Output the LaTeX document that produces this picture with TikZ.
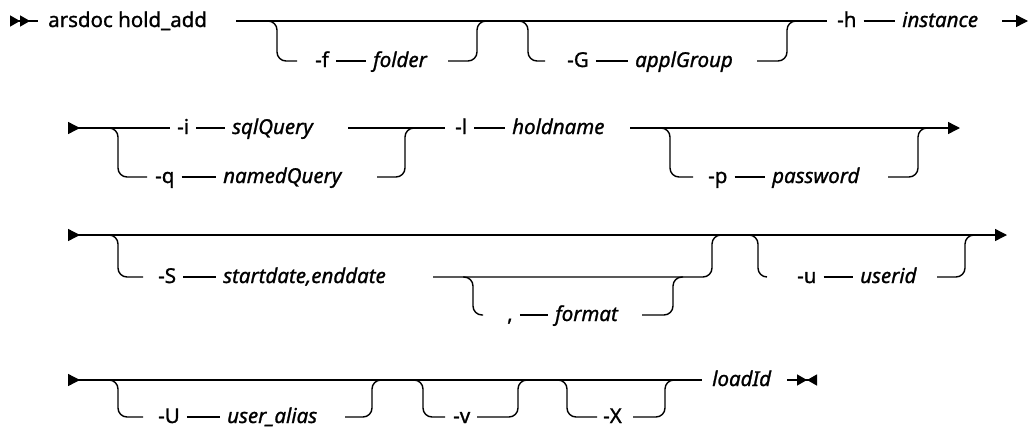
\documentclass[tikz,border=0pt]{standalone}
\usepackage{fontspec}
\setmainfont{Noto Sans}[FakeBold=1.1]
\usetikzlibrary{arrows.meta}

\newcommand{\railfont}{\fontsize{20.5}{24}\selectfont}

\begin{document}
\begin{tikzpicture}[x=1pt,y=-1pt,
    rail/.style={line width=1.4pt},
    br/.style={rail,rounded corners=9pt},
    link/.style={rail,shorten <=7pt,shorten >=7pt},
    kw/.style={anchor=west,inner sep=0pt,text height=12pt,text depth=0pt,font=\railfont},
    var/.style={kw,font=\railfont\itshape},
    railstart/.style={{Triangle[length=12pt,width=12pt,reversed]}-},
    railend/.style={-{Triangle[length=12pt,width=12pt]}}]
  \useasboundingbox (0,0) rectangle (1030,429);

  % row 1
  \coordinate (s1) at (10,21);
  \coordinate (s1e) at (38,21);
  \draw[rail,{Triangle[length=10pt,width=11pt,reversed]Triangle[length=10pt,width=11pt,reversed]}-] (s1) -- (s1e);
  \node[kw] (cmd) at (48,21) {arsdoc hold\_add};
  \coordinate (m1a) at (236,21);
  \coordinate (m1b) at (827,21);
  \draw[rail] (m1a) -- (m1b);
  % -f folder
  \coordinate (fA) at (267,21);
  \coordinate (fB) at (297,61);
  \coordinate (fC) at (448,61);
  \coordinate (fD) at (487,21);
  \node[kw] (f) at (315,61) {-f};
  \node[var] (folder) at (373,61) {folder};
  \draw[br] (fA) -- ++(10,0) |- (fB);
  \draw[link] (f) -- (folder);
  \draw[br] (fC) -| ([xshift=-10pt]fD) -- (fD);
  % -G applGroup
  \coordinate (GA) at (518,21);
  \coordinate (GB) at (545,61);
  \coordinate (GC) at (757,61);
  \coordinate (GD) at (797,21);
  \node[kw] (G) at (567,61) {-G};
  \node[var] (appl) at (635,61) {applGroup};
  \draw[br] (GA) -- ++(10,0) |- (GB);
  \draw[link] (G) -- (appl);
  \draw[br] (GC) -| ([xshift=-10pt]GD) -- (GD);
  % -h instance
  \node[kw] (h) at (837,21) {-h};
  \node[var] (inst) at (902,21) {instance};
  \draw[link] (h) -- (inst);
  \coordinate (e1a) at (1002,21);
  \coordinate (e1b) at (1028,21);
  \draw[rail,railend] (e1a) -- (e1b);

  % row 2
  \coordinate (s2) at (68,128);
  \coordinate (s2e) at (170,128);
  \draw[rail,railstart] (s2) -- (s2e);
  \node[kw] (i) at (177,128) {-i};
  \node[var] (sql) at (232,128) {sqlQuery};
  \draw[link] (i) -- (sql);
  \coordinate (m2a) at (348,128);
  \coordinate (m2b) at (445,128);
  \draw[rail] (m2a) -- (m2b);
  % -q namedQuery
  \coordinate (qA) at (108,128);
  \coordinate (qB) at (147,177);
  \coordinate (qC) at (377,177);
  \coordinate (qD) at (415,128);
  \node[kw] (q) at (155,177) {-q};
  \node[var] (named) at (223,177) {namedQuery};
  \draw[br] (qA) -- ++(10,0) |- (qB);
  \draw[link] (q) -- (named);
  \draw[br] (qC) -| ([xshift=-10pt]qD) -- (qD);
  % -l holdname
  \node[kw] (l) at (455,128) {-l};
  \node[var] (hold) at (512,128) {holdname};
  \draw[link] (l) -- (hold);
  \coordinate (m2c) at (630,128);
  \coordinate (e2) at (960,128);
  \draw[rail,railend] (m2c) -- (e2);
  % -p password
  \coordinate (pA) at (660,128);
  \coordinate (pB) at (693,177);
  \coordinate (pC) at (888,177);
  \coordinate (pD) at (928,128);
  \node[kw] (p) at (708,177) {-p};
  \node[var] (pw) at (772,177) {password};
  \draw[br] (pA) -- ++(10,0) |- (pB);
  \draw[link] (p) -- (pw);
  \draw[br] (pC) -| ([xshift=-10pt]pD) -- (pD);

  % row 3
  \coordinate (s3) at (68,235);
  \coordinate (e3) at (1007,235);
  \draw[rail,{Triangle[length=12pt,width=12pt,reversed]}-{Triangle[length=12pt,width=12pt]}] (s3) -- (e3);
  % -S startdate,enddate
  \coordinate (SA) at (108,235);
  \coordinate (SB) at (143,277);
  \coordinate (SC) at (433,277);
  \coordinate (SD) at (722,235);
  \node[kw] (S) at (158,277) {-S};
  \node[var] (dates) at (223,277) {startdate,enddate};
  \draw[br] (SA) -- ++(10,0) |- (SB);
  \draw[link] (S) -- (dates);
  \draw[br] (SC) -| ([xshift=-10pt]SD) -- (SD);
  % , format
  \coordinate (fmA) at (463,277);
  \coordinate (fmB) at (483,315);
  \coordinate (fmC) at (642,315);
  \coordinate (fmD) at (683,277);
  \node[kw] (comma) at (507,315) {,};
  \node[var] (fmt) at (555,315) {format};
  \draw[br] (fmA) -- ++(10,0) |- (fmB);
  \draw[link] (comma) -- (fmt);
  \draw[br] (fmC) -| ([xshift=-10pt]fmD) -- (fmD);
  % -u userid
  \coordinate (uA) at (748,235);
  \coordinate (uB) at (767,277);
  \coordinate (uC) at (937,277);
  \coordinate (uD) at (975,235);
  \node[kw] (u) at (797,277) {-u};
  \node[var] (uid) at (860,277) {userid};
  \draw[br] (uA) -- ++(10,0) |- (uB);
  \draw[link] (u) -- (uid);
  \draw[br] (uC) -| ([xshift=-10pt]uD) -- (uD);

  % row 4
  \coordinate (s4) at (68,380);
  \coordinate (m4) at (702,380);
  \draw[rail,railstart] (s4) -- (m4);
  % -U user_alias
  \coordinate (UA) at (108,380);
  \coordinate (UB) at (143,417);
  \coordinate (UC) at (345,417);
  \coordinate (UD) at (382,380);
  \node[kw] (U) at (158,417) {-U};
  \node[var] (alias) at (227,417) {user\_alias};
  \draw[br] (UA) -- ++(10,0) |- (UB);
  \draw[link] (U) -- (alias);
  \draw[br] (UC) -| ([xshift=-10pt]UD) -- (UD);
  % -v
  \coordinate (vA) at (413,380);
  \coordinate (vB) at (445,417);
  \coordinate (vC) at (477,417);
  \coordinate (vD) at (528,380);
  \node[kw] (v) at (453,417) {-v};
  \draw[br] (vA) -- ++(10,0) |- (vB);
  \draw[br] (vC) -| ([xshift=-10pt]vD) -- (vD);
  % -X
  \coordinate (XA) at (557,380);
  \coordinate (XB) at (597,417);
  \coordinate (XC) at (633,417);
  \coordinate (XD) at (675,380);
  \node[kw] (X) at (603,417) {-X};
  \draw[br] (XA) -- ++(10,0) |- (XB);
  \draw[br] (XC) -| ([xshift=-10pt]XD) -- (XD);
  % loadId
  \node[var] (load) at (712,380) {loadId};
  \coordinate (t4a) at (787,380);
  \coordinate (t4b) at (817,380);
  \draw[rail,-{Triangle[length=10pt,width=11pt] Triangle[length=10pt,width=11pt,reversed]}] (t4a) -- (t4b);
\end{tikzpicture}
\end{document}
